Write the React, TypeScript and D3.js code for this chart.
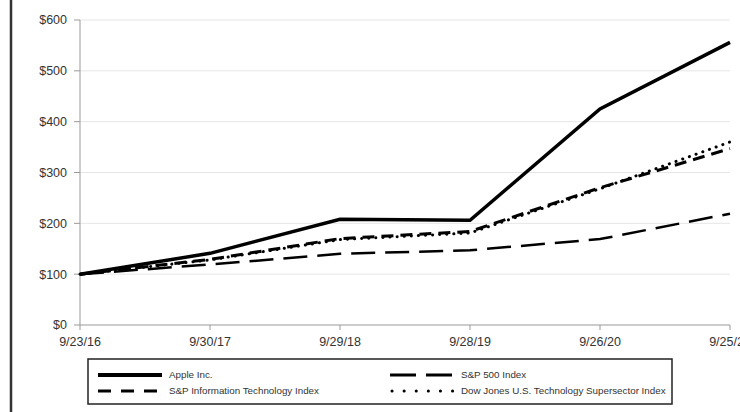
import * as d3 from "d3";

const dates = ["9/23/16", "9/30/17", "9/29/18", "9/28/19", "9/26/20", "9/25/21"];
const apple = [100, 141, 208, 206, 425, 556];
const sp500 = [100, 119, 140, 147, 169, 219];
const spTech = [100, 129, 170, 184, 270, 347];
const dowTech = [100, 128, 168, 181, 268, 360];
const yTicks = [0, 100, 200, 300, 400, 500, 600];

const seriesStyles = [
  { name: "Apple Inc.", values: apple, dash: "none", legendDash: "none", width: 3.5 },
  { name: "S&P 500 Index", values: sp500, dash: "24,10", legendDash: "26,10", width: 2.5 },
  { name: "S&P Information Technology Index", values: spTech, dash: "12,7", legendDash: "13,10", width: 3 },
  { name: "Dow Jones U.S. Technology Supersector Index", values: dowTech, dash: "0.1,7", legendDash: "0.1,12", width: 3 },
];

const W = 740;
const H = 412;
const left = 80;
const right = 730;
const top = 20;
const bottom = 325;

export default function App() {
  const x = d3.scalePoint<string>().domain(dates).range([left, right]);
  const y = d3.scaleLinear().domain([0, 600]).range([bottom, top]);
  const line = d3
    .line<number>()
    .x((_d, i) => x(dates[i]) as number)
    .y((d) => y(d));

  const font = "Liberation Sans, Arial, sans-serif";
  const legendItems = [
    { s: seriesStyles[0], lx: 98, ly: 375 },
    { s: seriesStyles[1], lx: 390, ly: 375 },
    { s: seriesStyles[2], lx: 98, ly: 391 },
    { s: seriesStyles[3], lx: 392, ly: 391 },
  ];

  return (
    <svg
      width={W}
      height={H}
      style={{ position: "absolute", left: 0, top: 0, background: "#fff" }}
      fontFamily={font}
    >
      <rect width={W} height={H} fill="#fff" />
      <line x1={11} x2={11} y1={0} y2={H} stroke="#333" strokeWidth={2.5} />
      {yTicks.map((t) => (
        <g key={t}>
          {t > 0 && (
            <line x1={left} x2={right} y1={y(t)} y2={y(t)} stroke="#e6e6e6" strokeWidth={1} />
          )}
          <line x1={left - 6} x2={left} y1={y(t)} y2={y(t)} stroke="#999" />
          <text x={67} y={y(t)} dy="0.35em" textAnchor="end" fontSize={12.5} fill="#333">
            ${t}
          </text>
        </g>
      ))}
      <line x1={left} x2={left} y1={top} y2={bottom} stroke="#999" />
      <line x1={left} x2={right} y1={bottom} y2={bottom} stroke="#999" />
      {dates.map((d) => (
        <g key={d}>
          <line x1={x(d)} x2={x(d)} y1={bottom} y2={bottom + 5} stroke="#999" />
          <text x={x(d)} y={bottom + 17} dy="0.35em" textAnchor="middle" fontSize={12.5} fill="#333">
            {d}
          </text>
        </g>
      ))}
      {seriesStyles
        .slice()
        .reverse()
        .map((s) => (
          <path
            key={s.name}
            d={line(s.values) ?? ""}
            fill="none"
            stroke="#000"
            strokeWidth={s.width}
            strokeDasharray={s.dash}
            strokeLinecap={s.dash === "0.1,7" ? "round" : "butt"}
          />
        ))}
      <rect x={88} y={359} width={584} height={45} fill="#fff" stroke="#222" strokeWidth={1.5} />
      {legendItems.map(({ s, lx, ly }) => (
        <g key={s.name}>
          <line
            x1={lx}
            x2={lx + 64}
            y1={ly}
            y2={ly}
            stroke="#000"
            strokeWidth={s.width === 3.5 ? 4 : 3}
            strokeDasharray={s.legendDash}
            strokeLinecap={s.legendDash === "0.1,12" ? "round" : "butt"}
          />
          <text x={lx + (s.legendDash === "0.1,12" ? 69 : 71)} y={ly} dy="0.35em" fontSize={9.8} fill="#333">
            {s.name}
          </text>
        </g>
      ))}
    </svg>
  );
}
